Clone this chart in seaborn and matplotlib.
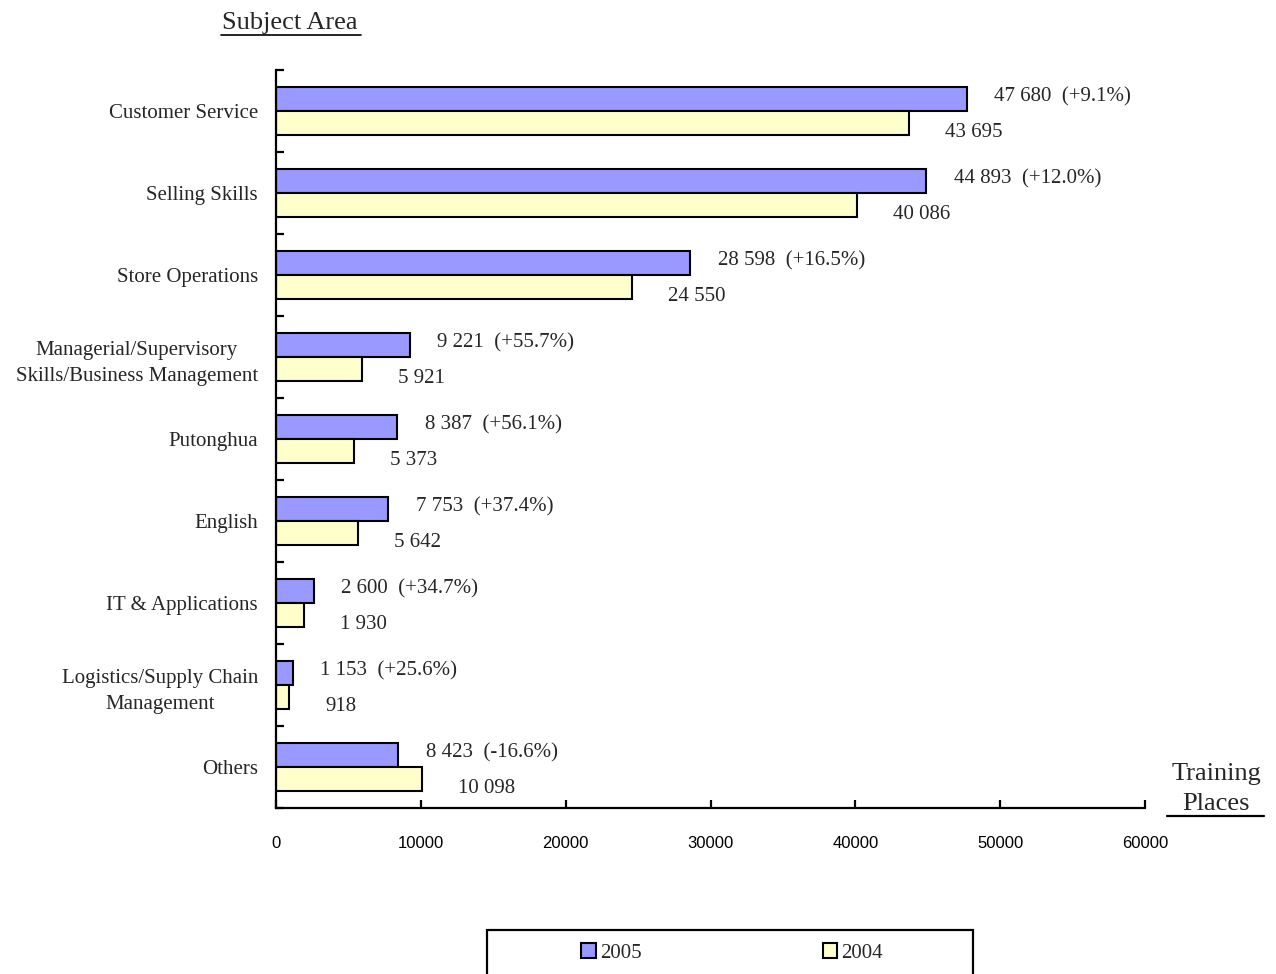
import matplotlib
matplotlib.use("Agg")
import matplotlib.pyplot as plt
from matplotlib.lines import Line2D
from matplotlib.patches import Rectangle, Patch
import seaborn as sns
import pandas as pd

# Training places by subject area
categories = [
    "Customer Service",
    "Selling Skills",
    "Store Operations",
    "Managerial/Supervisory\nSkills/Business Management",
    "Putonghua",
    "English",
    "IT & Applications",
    "Logistics/Supply Chain\nManagement",
    "Others",
]
places_2005 = [47680, 44893, 28598, 9221, 8387, 7753, 2600, 1153, 8423]
places_2004 = [43695, 40086, 24550, 5921, 5373, 5642, 1930, 918, 10098]
change_pct = ["+9.1%", "+12.0%", "+16.5%", "+55.7%", "+56.1%", "+37.4%", "+34.7%", "+25.6%", "-16.6%"]
years = ["2005", "2004"]
x_ticks = [0, 10000, 20000, 30000, 40000, 50000, 60000]

colors = {"2005": "#9999FF", "2004": "#FFFFCC"}
serif = "Liberation Serif"
sans = "Liberation Sans"

df = pd.DataFrame({
    "Subject": categories * 2,
    "Places": places_2005 + places_2004,
    "Year": ["2005"] * len(categories) + ["2004"] * len(categories),
})

sns.set_style("ticks")
plt.rcParams["font.family"] = [serif, "DejaVu Sans"]

W, H = 1276, 974
fig = plt.figure(figsize=(W / 100, H / 100), dpi=100)
ax = fig.add_axes([276 / W, 1 - 808 / H, (1145 - 276) / W, (808 - 70) / H])

sns.barplot(
    data=df, y="Subject", x="Places", hue="Year", hue_order=years,
    order=categories, orient="h", palette=colors, saturation=1,
    width=0.585, gap=0, edgecolor="black", linewidth=1.5,
    legend=False, ax=ax,
)

ax.set_xlim(0, 60000)
ax.set_ylim(len(categories) - 0.5, -0.5)
ax.set_xlabel("")
ax.set_ylabel("")

# Axes frame: only left and bottom spines
for side in ("top", "right"):
    ax.spines[side].set_visible(False)
for side in ("left", "bottom"):
    ax.spines[side].set_linewidth(1.6)
    ax.spines[side].set_color("black")

ax.set_xticks(x_ticks)
ax.set_xticklabels([str(t) for t in x_ticks], fontfamily=sans, fontsize=12)
ax.tick_params(axis="x", which="major", bottom=True, direction="in", length=6,
               width=1.6, pad=20, colors="black")

ax.set_yticks(range(len(categories)))
ax.set_yticklabels(categories, fontsize=15, multialignment="center", linespacing=1.5)
ax.tick_params(axis="y", which="major", left=True, length=0, pad=13)
ax.set_yticks([i - 0.5 for i in range(len(categories) + 1)], minor=True)
ax.tick_params(axis="y", which="minor", left=True, direction="in", length=6,
               width=1.6, colors="black")

# Value labels beside each bar
fmt = lambda v: f"{v:,}".replace(",", " ")
for i, (v5, v4, pct) in enumerate(zip(places_2005, places_2004, change_pct)):
    ax.annotate(f"{fmt(v5)}  ({pct})", xy=(v5, i - 0.146), xytext=(20, 1.5),
                textcoords="offset points", va="center", ha="left", fontsize=15)
    ax.annotate(fmt(v4), xy=(v4, i + 0.146), xytext=(26, -7),
                textcoords="offset points", va="center", ha="left", fontsize=15)

# Axis titles with underlines
fig.text(290 / W, 1 - 23 / H, "Subject Area", ha="center", va="center", fontsize=19)
fig.add_artist(Line2D([221 / W, 361 / W], [1 - 35 / H, 1 - 35 / H], color="black", lw=1.2))
fig.text(1216 / W, 1 - 774 / H, "Training", ha="center", va="center", fontsize=19)
fig.text(1216 / W, 1 - 804 / H, "Places", ha="center", va="center", fontsize=19)
fig.add_artist(Line2D([1167 / W, 1264 / W], [1 - 816 / H, 1 - 816 / H], color="black", lw=1.6))

# Legend box
fig.add_artist(Rectangle((487 / W, -0.05), (973 - 487) / W, (974 - 930) / H + 0.05,
                         transform=fig.transFigure, facecolor="white",
                         edgecolor="black", lw=1.6))
handles = [Patch(facecolor=colors[y], edgecolor="black", lw=1.5, label=y) for y in years]
fig.legend(handles=handles, loc="center", bbox_to_anchor=(732 / W, 1 - 953 / H),
           ncol=2, frameon=False, fontsize=15, handlelength=0.7, handleheight=0.7,
           handletextpad=0.2, columnspacing=8.7, borderpad=0)

fig.savefig("out.png", dpi=100)
